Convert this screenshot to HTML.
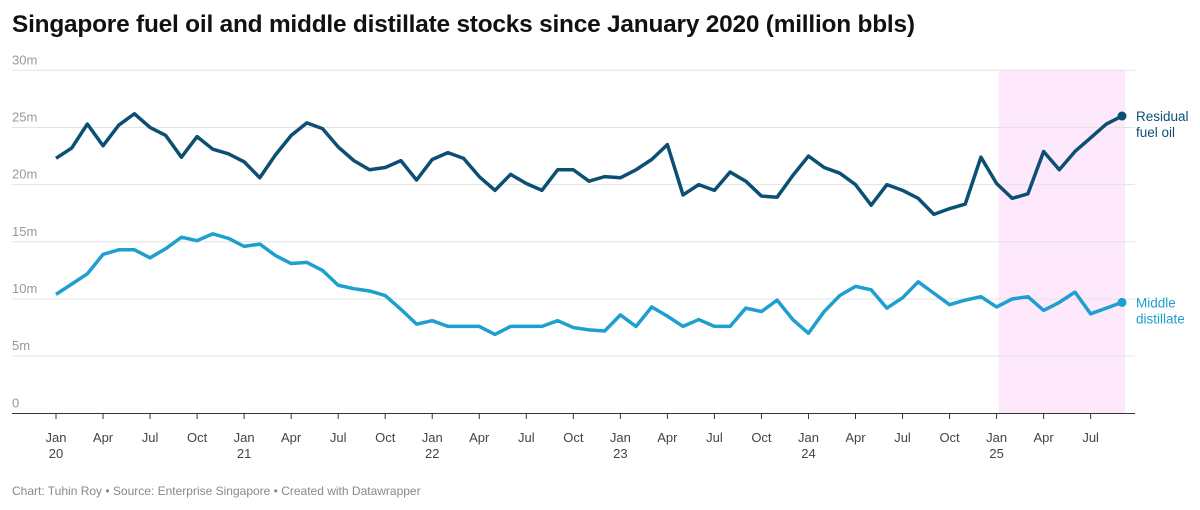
<!DOCTYPE html>
<html><head><meta charset="utf-8"><style>
body{margin:0;background:#fff;width:1200px;height:510px;overflow:hidden;font-family:"Liberation Sans",sans-serif}
#title{position:absolute;left:12px;top:11px;font-size:24.4px;font-weight:bold;color:#111;letter-spacing:-0.2px}
#foot{position:absolute;left:12px;top:484px;font-size:12px;color:#888}
svg{position:absolute;left:0;top:0}
</style></head><body>
<div id="title">Singapore fuel oil and middle distillate stocks since January 2020 (million bbls)</div>
<svg id="chart" width="1200" height="510"></svg>
<div id="foot">Chart: Tuhin Roy • Source: Enterprise Singapore • Created with Datawrapper</div>
<script>
const residual=[22.3,23.2,25.3,23.4,25.2,26.2,25.0,24.3,22.4,24.2,23.1,22.7,22.0,20.6,22.6,24.3,25.4,24.9,23.3,22.1,21.3,21.5,22.1,20.4,22.2,22.8,22.3,20.7,19.5,20.9,20.1,19.5,21.3,21.3,20.3,20.7,20.6,21.3,22.2,23.5,19.1,20.0,19.5,21.1,20.3,19.0,18.9,20.8,22.5,21.5,21.0,20.0,18.2,20.0,19.5,18.8,17.4,17.9,18.3,22.4,20.1,18.8,19.2,22.9,21.3,22.9,24.1,25.3,26.0];
const middle=[10.4,11.3,12.2,13.9,14.3,14.3,13.6,14.4,15.4,15.1,15.7,15.3,14.6,14.8,13.8,13.1,13.2,12.5,11.2,10.9,10.7,10.3,9.1,7.8,8.1,7.6,7.6,7.6,6.9,7.6,7.6,7.6,8.1,7.5,7.3,7.2,8.6,7.6,9.3,8.5,7.6,8.2,7.6,7.6,9.2,8.9,9.9,8.2,7.0,8.9,10.3,11.1,10.8,9.2,10.1,11.5,10.5,9.5,9.9,10.2,9.3,10.0,10.2,9.0,9.7,10.6,8.7,9.2,9.7];
const yTicks=[0,5,10,15,20,25,30];
const xTickMonths=[0,3,6,9,12,15,18,21,24,27,30,33,36,39,42,45,48,51,54,57,60,63,66];
const monthNames=["Jan","Apr","Jul","Oct"];
const highlightStart=60, highlightEnd=68;
const NS="http://www.w3.org/2000/svg";
const svg=document.getElementById('chart');
const x=m=>56+m*(1122-56)/68;
const y=v=>413.3-v*(413.3-70.3)/30;
function el(t,a,p){const e=document.createElementNS(NS,t);for(const k in a)e.setAttribute(k,a[k]);(p||svg).appendChild(e);return e;}
const hl=el('rect',{x:x(highlightStart)+2,y:70,width:x(highlightEnd)-x(highlightStart)+1,height:343,fill:'#fde9fb'});


yTicks.forEach(v=>{
 if(v>0){const g=el('line',{x1:12,x2:1135,y1:y(v),y2:y(v),stroke:'#e3e3e3','stroke-width':1});
 
 }
 const t=el('text',{x:12,y:y(v)-6,'font-size':13,fill:'#999','font-family':'Liberation Sans'});
 t.textContent=v===0?'0':v+'m';
 
 
});
const ax=el('line',{x1:12,x2:1135,y1:413.5,y2:413.5,stroke:'#333','stroke-width':1});


xTickMonths.forEach(m=>{
 const tk=el('line',{x1:x(m),x2:x(m),y1:413,y2:419,stroke:'#333'});
 
 
 const t=el('text',{x:x(m),y:442,'font-size':13,fill:'#444','text-anchor':'middle','font-family':'Liberation Sans'});
 t.textContent=monthNames[(m%12)/3];
 
 
 if(m%12===0){const t2=el('text',{x:x(m),y:458,'font-size':13,fill:'#444','text-anchor':'middle','font-family':'Liberation Sans'});
 t2.textContent=String(20+m/12);
 
 }
});
function series(data,color,name,labels){
 const p=el('polyline',{points:data.map((v,i)=>x(i)+','+y(v)).join(' '),fill:'none',stroke:color,'stroke-width':3.5,'stroke-linejoin':'round'});
 
 
 const last=data.length-1;
 const c=el('circle',{cx:x(last),cy:y(data[last]),r:4.5,fill:color});
 
 
 labels.forEach((s,i)=>{const t=el('text',{x:1136,y:y(data[last])+5+i*16,'font-size':13.5,fill:color,'font-family':'Liberation Sans'});
 t.textContent=s;
 
 });
}
series(residual,'#0b4f75','residual-fuel-oil',['Residual','fuel oil']);
series(middle,'#1d9fcf','middle-distillate',['Middle','distillate']);
</script>
</body></html>
